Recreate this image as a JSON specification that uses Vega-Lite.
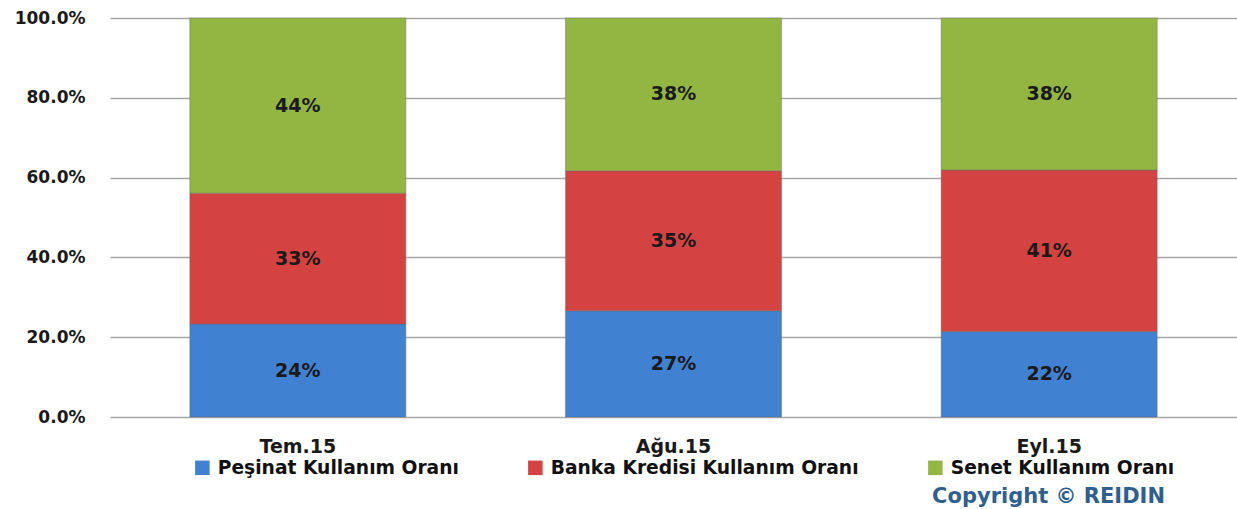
{
  "$schema": "https://vega.github.io/schema/vega-lite/v6.json",
  "width": 1127,
  "height": 399,
  "autosize": "none",
  "padding": {"left": 110, "top": 18, "right": 0, "bottom": 92},
  "background": "white",
  "config": {
    "view": {"stroke": null},
    "font": "DejaVu Sans",
    "axis": {"labelFont": "DejaVu Sans", "labelFontWeight": "bold", "labelColor": "#1a1a1a"}
  },
  "title": {
    "text": "Copyright © REIDIN",
    "orient": "bottom",
    "anchor": "end",
    "dx": -72,
    "offset": 8,
    "font": "DejaVu Sans",
    "fontSize": 21,
    "fontWeight": "bold",
    "color": "#2f5f8f"
  },
  "data": {
    "values": [
      {"ay": "Tem.15", "seri": "Peşinat Kullanım Oranı", "sira": 1, "deger": 0.233, "etiket": "24%"},
      {"ay": "Tem.15", "seri": "Banka Kredisi Kullanım Oranı", "sira": 2, "deger": 0.328, "etiket": "33%"},
      {"ay": "Tem.15", "seri": "Senet Kullanım Oranı", "sira": 3, "deger": 0.439, "etiket": "44%"},
      {"ay": "Ağu.15", "seri": "Peşinat Kullanım Oranı", "sira": 1, "deger": 0.266, "etiket": "27%"},
      {"ay": "Ağu.15", "seri": "Banka Kredisi Kullanım Oranı", "sira": 2, "deger": 0.351, "etiket": "35%"},
      {"ay": "Ağu.15", "seri": "Senet Kullanım Oranı", "sira": 3, "deger": 0.383, "etiket": "38%"},
      {"ay": "Eyl.15", "seri": "Peşinat Kullanım Oranı", "sira": 1, "deger": 0.214, "etiket": "22%"},
      {"ay": "Eyl.15", "seri": "Banka Kredisi Kullanım Oranı", "sira": 2, "deger": 0.405, "etiket": "41%"},
      {"ay": "Eyl.15", "seri": "Senet Kullanım Oranı", "sira": 3, "deger": 0.381, "etiket": "38%"}
    ]
  },
  "encoding": {
    "x": {
      "field": "ay", "type": "nominal", "sort": ["Tem.15", "Ağu.15", "Eyl.15"],
      "scale": {"paddingInner": 0.425, "paddingOuter": 0.2125},
      "axis": {"title": null, "labelAngle": 0, "domain": false, "ticks": false, "labelPadding": 20, "labelFontSize": 19}
    },
    "y": {
      "field": "deger", "type": "quantitative", "stack": "zero",
      "scale": {"domain": [0, 1]},
      "axis": {"title": null, "format": ".1%", "values": [0, 0.2, 0.4, 0.6, 0.8, 1], "domain": false, "ticks": false, "labelPadding": 25, "labelFontSize": 17, "gridColor": "#a6a6a6", "gridWidth": 1.5}
    },
    "order": {"field": "sira", "type": "quantitative"}
  },
  "layer": [
    {
      "mark": {"type": "bar", "stroke": "#6b6b6b", "strokeWidth": 0.8, "strokeOpacity": 0.6},
      "encoding": {
        "color": {
          "field": "seri", "type": "nominal",
          "sort": ["Peşinat Kullanım Oranı", "Banka Kredisi Kullanım Oranı", "Senet Kullanım Oranı"],
          "scale": {"domain": ["Peşinat Kullanım Oranı", "Banka Kredisi Kullanım Oranı", "Senet Kullanım Oranı"], "range": ["#4181d2", "#d44242", "#93b542"]},
          "legend": {
            "title": null, "orient": "none", "direction": "horizontal", "columns": 3,
            "legendX": 83, "legendY": 440,
            "symbolType": "square", "symbolSize": 210, "symbolStrokeWidth": 0, "symbolOffset": 0,
            "labelFont": "DejaVu Sans", "labelFontSize": 18.7, "labelFontWeight": "bold", "labelColor": "#111111",
            "labelOffset": 6, "columnPadding": 67, "labelLimit": 400
          }
        }
      }
    },
    {
      "mark": {"type": "text", "font": "DejaVu Sans", "fontSize": 19, "fontWeight": "bold", "color": "#1a1a1a"},
      "encoding": {
        "y": {"field": "deger", "type": "quantitative", "stack": "zero", "bandPosition": 0.5},
        "text": {"field": "etiket"}
      }
    }
  ]
}
